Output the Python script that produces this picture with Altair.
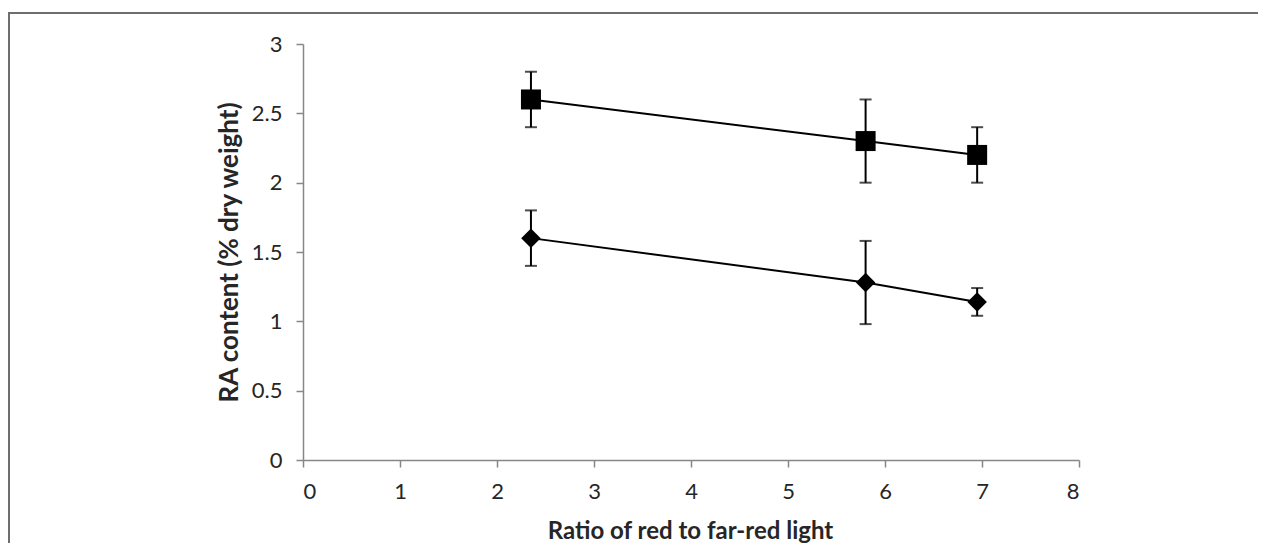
import altair as alt
import pandas as pd

# data
ratio = [2.35, 5.8, 6.95]
series_a = [2.6, 2.3, 2.2]      # squares
err_a = [0.2, 0.3, 0.2]
series_b = [1.6, 1.28, 1.14]    # diamonds
err_b = [0.2, 0.3, 0.1]
x_ticks = [0, 1, 2, 3, 4, 5, 6, 7, 8]
y_ticks = [0, 0.5, 1, 1.5, 2, 2.5, 3]

rows = []
for x, v, e in zip(ratio, series_a, err_a):
    rows.append({"x": x, "y": v, "lo": v - e, "hi": v + e, "s": "A"})
for x, v, e in zip(ratio, series_b, err_b):
    rows.append({"x": x, "y": v, "lo": v - e, "hi": v + e, "s": "B"})
df = pd.DataFrame(rows)

FONT = "Lato"
W, H = 776, 416
PL, PT = 295, 36
PR = 1250 - PL - W
PB = 535 - PT - H

xs = alt.Scale(domain=[0, 8], nice=False)
ys = alt.Scale(domain=[0, 3], nice=False)

base = alt.Chart(df)

xenc = alt.X("x:Q", scale=xs, axis=alt.Axis(
    values=x_ticks, title="Ratio of red to far-red light", grid=False,
    labelExpr="datum.value + ''",
    tickSize=7, labelPadding=14, titleX=387, titleY=71, titleFontSize=24,
    titleAlign="center", titleBaseline="middle"))
yenc = alt.Y("y:Q", scale=ys, axis=alt.Axis(
    values=y_ticks, title="RA content (% dry weight)", grid=False,
    labelExpr="datum.value + ''",
    tickSize=7, labelPadding=14, titleX=-74, titleY=H / 2, titleFontSize=26,
    titleAlign="center", titleBaseline="middle", titleAngle=-90))

line = base.mark_line(color="black", strokeWidth=2).encode(
    x=xenc, y=yenc, detail="s:N")

rule = base.mark_rule(color="black", strokeWidth=2).encode(
    x="x:Q", y="lo:Q", y2="hi:Q")
cap_lo = base.mark_tick(color="black", orient="horizontal", size=12, thickness=2).encode(
    x="x:Q", y="lo:Q")
cap_hi = base.mark_tick(color="black", orient="horizontal", size=12, thickness=2).encode(
    x="x:Q", y="hi:Q")

pts = base.mark_point(filled=True, color="black", opacity=1).encode(
    x="x:Q", y="y:Q",
    shape=alt.Shape("s:N", scale=alt.Scale(domain=["A", "B"], range=["square", "diamond"]), legend=None),
    size=alt.Size("s:N", scale=alt.Scale(domain=["A", "B"], range=[400, 380]), legend=None))

frame = alt.Chart(pd.DataFrame({"a": [0]})).mark_rect(
    fill=None, stroke="#6e6e6e", strokeWidth=2).encode(
    x=alt.value(-PL + 1), x2=alt.value(W + PR + 20),
    y=alt.value(-PT + 5), y2=alt.value(H + PB + 20))

chart = alt.layer(frame, line, rule, cap_lo, cap_hi, pts).properties(
    width=W, height=H,
    autosize=alt.AutoSizeParams(type="none"),
    padding={"left": PL, "top": PT, "right": PR, "bottom": PB},
).configure_view(stroke=None).configure_axis(
    domainColor="#878787", tickColor="#878787", domainWidth=1.5, tickWidth=1.5,
    labelFont=FONT, labelFontSize=22, labelColor="#262626",
    titleFont=FONT, titleFontWeight="bold", titleColor="#262626",
)

chart.save("out.html", embed_options={"renderer": "svg", "actions": False})
